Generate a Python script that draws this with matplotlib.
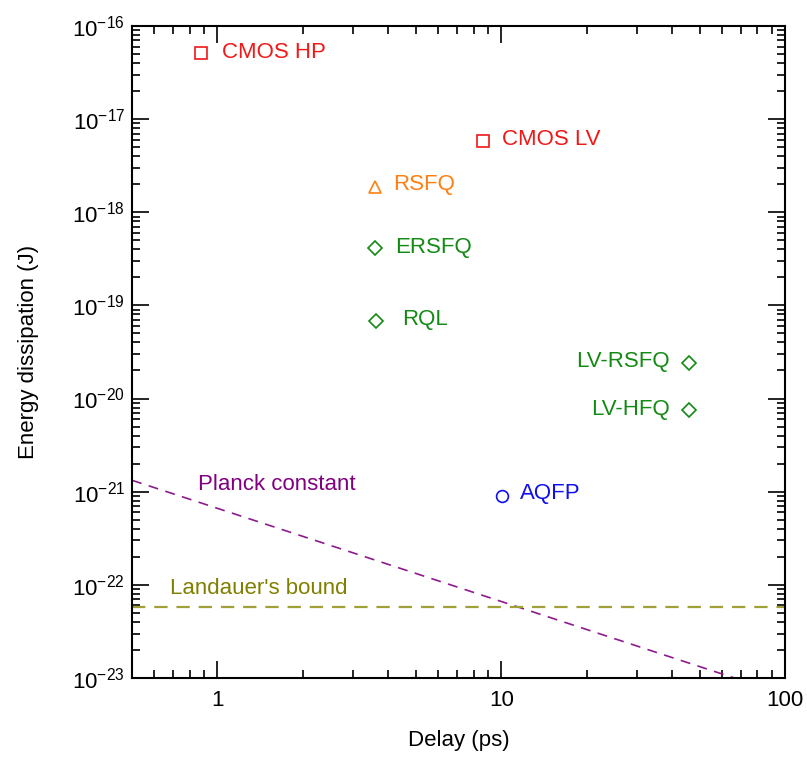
import numpy as np
import matplotlib
matplotlib.use('Agg')
import matplotlib.pyplot as plt
from matplotlib.ticker import LogLocator, NullFormatter, FuncFormatter

plt.rcParams['font.family'] = ['Liberation Sans', 'DejaVu Sans']
plt.rcParams['mathtext.fontset'] = 'custom'
plt.rcParams['mathtext.rm'] = 'Liberation Sans'
plt.rcParams['mathtext.it'] = 'Liberation Sans'

# logic families: delay (ps), energy per operation (J)
names   = ['CMOS HP', 'CMOS LV', 'RSFQ', 'ERSFQ', 'RQL', 'LV-RSFQ', 'LV-HFQ', 'AQFP']
delay   = [0.875, 8.6, 3.6, 3.6, 3.62, 46.0, 46.0, 10.05]
energy  = [5.1e-17, 5.8e-18, 1.85e-18, 4.1e-19, 6.8e-20, 2.4e-20, 7.6e-21, 8.9e-22]
markers = ['s', 's', '^', 'D', 'D', 'D', 'D', 'o']
colors  = ['#f01818', '#f01818', '#ff8010', '#138a13', '#138a13', '#138a13', '#138a13', '#1010ee']
# label offsets (points, from the marker to the text baseline) and alignment
offsets = [(15, -3.2), (13.7, -2.9), (13, -2), (14.4, -3.4), (18.7, -3), (-13.7, -3), (-13.7, -4), (13, -1.6)]
aligns  = ['left', 'left', 'left', 'left', 'left', 'right', 'right', 'left']

# quantum limit E = h / t and thermal limit kT ln2
planck_delay  = [0.5, 100.0]
planck_energy = [1.325e-21, 6.63e-24]
landauer_energy = 5.75e-23

fig = plt.figure(figsize=(8.07, 7.57), dpi=100)
ax = fig.add_axes([0.1636, 0.1044, 0.8091, 0.8613])
ax.set_xscale('log'); ax.set_yscale('log')
ax.set_xlim(0.5, 100); ax.set_ylim(1e-23, 1e-16)

ax.plot(planck_delay, planck_energy, ls=(0, (6, 4.5)), color='#8e1a8e', lw=1.2)
ax.axhline(landauer_energy, ls=(0, (6, 4)), color='#a0a038', lw=1.6)
ax.text(0.854, 1.04e-21, 'Planck constant', color='#800080', fontsize=16,
        ha='left', va='baseline')
ax.text(0.68, 7.9e-23, "Landauer's bound", color='#808000', fontsize=16,
        ha='left', va='baseline')

for n, x, y, m, c, off, ha in zip(names, delay, energy, markers, colors, offsets, aligns):
    ax.plot(x, y, marker=m, ms=7.5 if m == 'D' else 8.5, mfc='none', mec=c, mew=1.2, ls='none')
    ax.annotate(n, (x, y), xytext=off, textcoords='offset points', color=c,
                fontsize=16, ha=ha, va='baseline')

ax.xaxis.set_major_locator(LogLocator(base=10, numticks=10))
ax.xaxis.set_minor_locator(LogLocator(base=10, subs=np.arange(2, 10), numticks=20))
ax.xaxis.set_major_formatter(FuncFormatter(lambda v, p: f'{v:g}'))
ax.xaxis.set_minor_formatter(NullFormatter())
ax.yaxis.set_major_locator(LogLocator(base=10, numticks=20))
ax.yaxis.set_minor_locator(LogLocator(base=10, subs=np.arange(2, 10), numticks=20))
ax.yaxis.set_major_formatter(FuncFormatter(lambda v, p: r'$10^{%d}$' % round(np.log10(v))))
ax.yaxis.set_minor_formatter(NullFormatter())

ax.tick_params(which='both', direction='in', top=True, right=True, labelsize=16, width=1.2)
ax.tick_params(which='major', length=12)
ax.tick_params(which='minor', length=6)
ax.tick_params(axis='x', which='major', pad=8.5)
ax.tick_params(axis='y', which='major', pad=5)
for s in ax.spines.values():
    s.set_linewidth(1.5)

ax.set_xlabel('Delay (ps)', fontsize=16, labelpad=14)
ax.set_ylabel('Energy dissipation (J)', fontsize=16, labelpad=24)

fig.savefig('out.png', dpi=100)
